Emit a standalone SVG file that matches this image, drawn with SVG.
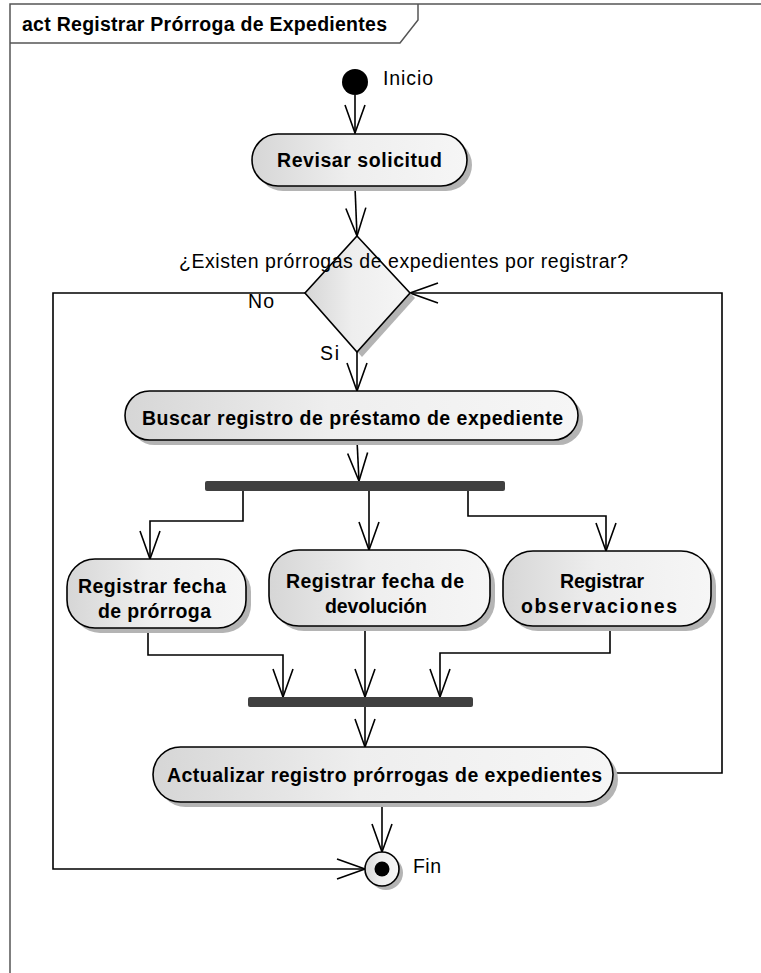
<svg xmlns="http://www.w3.org/2000/svg" width="761" height="973" viewBox="0 0 761 973">
<style>
text{font-family:"Liberation Sans",Arial,sans-serif;font-size:19.5px;fill:#000}
.b{font-weight:bold}
.node{fill:url(#g);stroke:#000;stroke-width:1.6}
.sh{fill:#b4b4b4}
.bar{fill:#404040}
.c{fill:none;stroke:#000;stroke-width:1.6}
.frame{fill:none;stroke:#555;stroke-width:1.5}
</style>
<defs>
<linearGradient id="g" x1="0" y1="0" x2="1" y2="0">
<stop offset="0" stop-color="#d6d6d6"/>
<stop offset="0.45" stop-color="#eeeeee"/>
<stop offset="1" stop-color="#f6f6f6"/>
</linearGradient>
<marker id="a" viewBox="0 0 30 22" refX="29" refY="11" markerWidth="30" markerHeight="22" markerUnits="userSpaceOnUse" orient="auto">
<path d="M1,1 L29,11 L1,21" fill="none" stroke="#000" stroke-width="1.6"/>
</marker>
</defs>
<g id="frame">
<rect class="frame" x="10" y="4" width="800" height="1000" fill="#fff"/>
<path class="frame" d="M10,43 H400 L418,20 V4"/>
<text class="b" x="22" y="31" textLength="365" lengthAdjust="spacing">act Registrar Prórroga de Expedientes</text>
</g>
<g id="connectors">
<path class="c" d="M355,95 V133" marker-end="url(#a)"/>
<path class="c" d="M355,187 L357,236" marker-end="url(#a)"/>
<path class="c" d="M357,352 V391" marker-end="url(#a)"/>
<path class="c" d="M357,440 L359,481" marker-end="url(#a)"/>
<path class="c" d="M243,491 V521 H150 V559" marker-end="url(#a)"/>
<path class="c" d="M369,491 V550" marker-end="url(#a)"/>
<path class="c" d="M468,491 V516 H606 V551" marker-end="url(#a)"/>
<path class="c" d="M148,628 V655 H283 V697" marker-end="url(#a)"/>
<path class="c" d="M365,626 V697" marker-end="url(#a)"/>
<path class="c" d="M610,626 V653 H440 V697" marker-end="url(#a)"/>
<path class="c" d="M365,707 V747" marker-end="url(#a)"/>
<path class="c" d="M613,773 H722 V293 H410" marker-end="url(#a)"/>
<path class="c" d="M305,293 H53 V869 H365" marker-end="url(#a)"/>
<path class="c" d="M382,802 V852" marker-end="url(#a)"/>
</g>
<g id="inicio">
<circle cx="355" cy="82" r="13" fill="#000"/>
<text x="383" y="85" textLength="50" lengthAdjust="spacing">Inicio</text>
</g>
<g id="revisar">
<rect class="sh" x="257" y="139" width="215" height="52" rx="26"/>
<rect class="node" x="252" y="134" width="215" height="52" rx="26"/>
<text class="b" x="277" y="167" textLength="165" lengthAdjust="spacing">Revisar solicitud</text>
</g>
<g id="decision">
<polygon class="sh" points="362,241 415,298 362,357 310,298"/>
<polygon class="node" points="357,236 410,293 357,352 305,293"/>
<text x="179" y="268" textLength="449" lengthAdjust="spacing">¿Existen prórrogas de expedientes por registrar?</text>
<text x="248" y="308" textLength="26" lengthAdjust="spacing">No</text>
<text x="320" y="360" textLength="19" lengthAdjust="spacing">Si</text>
</g>
<g id="buscar">
<rect class="sh" x="130" y="396" width="453" height="49" rx="24.5"/>
<rect class="node" x="125" y="391" width="453" height="49" rx="24.5"/>
<text class="b" x="142" y="425" textLength="421" lengthAdjust="spacing">Buscar registro de préstamo de expediente</text>
</g>
<g id="fork">
<rect class="bar" x="205" y="481" width="300" height="10" rx="2"/>
</g>
<g id="fechaProrroga">
<rect class="sh" x="72" y="564" width="179" height="69" rx="28"/>
<rect class="node" x="67" y="559" width="179" height="69" rx="28"/>
<text class="b" x="78" y="593" textLength="148" lengthAdjust="spacing">Registrar fecha</text>
<text class="b" x="98" y="618" textLength="113" lengthAdjust="spacing">de prórroga</text>
</g>
<g id="fechaDevolucion">
<rect class="sh" x="274" y="555" width="221" height="76" rx="30"/>
<rect class="node" x="269" y="550" width="221" height="76" rx="30"/>
<text class="b" x="286" y="588" textLength="178" lengthAdjust="spacing">Registrar fecha de</text>
<text class="b" x="325" y="613" textLength="102" lengthAdjust="spacing">devolución</text>
</g>
<g id="observaciones">
<rect class="sh" x="508" y="556" width="208" height="75" rx="30"/>
<rect class="node" x="503" y="551" width="208" height="75" rx="30"/>
<text class="b" x="560" y="588" textLength="84" lengthAdjust="spacing">Registrar</text>
<text class="b" x="521" y="613" textLength="156" lengthAdjust="spacing">observaciones</text>
</g>
<g id="join">
<rect class="bar" x="248" y="697" width="225" height="10" rx="2"/>
</g>
<g id="actualizar">
<rect class="sh" x="158" y="752" width="460" height="55" rx="27.5"/>
<rect class="node" x="153" y="747" width="460" height="55" rx="27.5"/>
<text class="b" x="167" y="782" textLength="435" lengthAdjust="spacing">Actualizar registro prórrogas de expedientes</text>
</g>
<g id="fin">
<circle cx="386" cy="873" r="17" class="sh"/>
<circle cx="382" cy="869" r="17" class="node"/>
<circle cx="382" cy="869" r="7.5" fill="#000"/>
<text x="413" y="873" textLength="28" lengthAdjust="spacing">Fin</text>
</g>
</svg>
